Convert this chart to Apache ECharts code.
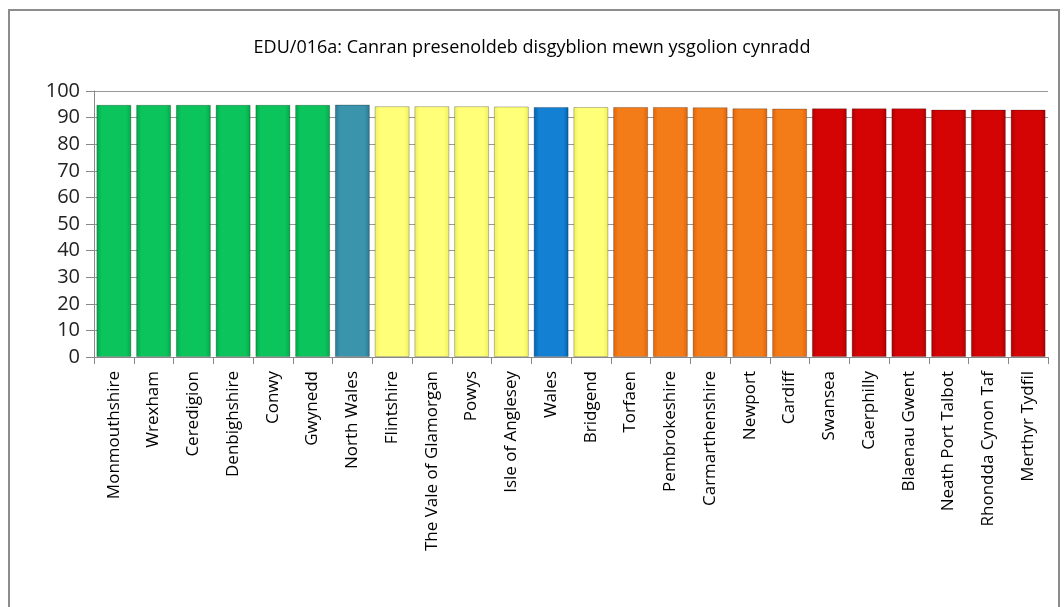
<!DOCTYPE html>
<html>
<head>
<meta charset="utf-8">
<script src="https://cdn.jsdelivr.net/npm/echarts@6/dist/echarts.min.js"></script>
<style>
  html, body { margin: 0; padding: 0; background: #fff; }
  #chart { width: 1064px; height: 607px; }
</style>
</head>
<body>
<div id="chart"></div>
<script>
var myChart = echarts.init(document.getElementById('chart'));

// areas, in the order shown
var areas = ['Monmouthshire', 'Wrexham', 'Ceredigion', 'Denbighshire', 'Conwy', 'Gwynedd',
  'North Wales', 'Flintshire', 'The Vale of Glamorgan', 'Powys', 'Isle of Anglesey', 'Wales',
  'Bridgend', 'Torfaen', 'Pembrokeshire', 'Carmarthenshire', 'Newport', 'Cardiff',
  'Swansea', 'Caerphilly', 'Blaenau Gwent', 'Neath Port Talbot', 'Rhondda Cynon Taf', 'Merthyr Tydfil'];

// attendance %
var attendance = [94.8, 94.8, 94.8, 94.8, 94.8, 94.8,
  94.9, 94.3, 94.3, 94.3, 94.2, 94.0,
  94.0, 94.0, 94.0, 93.9, 93.5, 93.4,
  93.5, 93.5, 93.5, 93.0, 93.0, 93.0];

// colour band of each bar
var band = ['green', 'green', 'green', 'green', 'green', 'green',
  'teal', 'yellow', 'yellow', 'yellow', 'yellow', 'blue',
  'yellow', 'orange', 'orange', 'orange', 'orange', 'orange',
  'red', 'red', 'red', 'red', 'red', 'red'];

var colours = {
  green:  ['#00a848', '#0cc45c', '#00a848'],
  teal:   ['#2a7890', '#3a94ac', '#2a7890'],
  yellow: ['#eeee5a', '#ffff78', '#eeee5a'],
  blue:   ['#0062b0', '#1480d4', '#0062b0'],
  orange: ['#e06408', '#f47c18', '#e06408'],
  red:    ['#b00000', '#d40404', '#b00000']
};

function barStyle(name) {
  var c = colours[name];
  return {
    color: new echarts.graphic.LinearGradient(0, 0, 1, 0, [
      { offset: 0, color: c[0] },
      { offset: 0.15, color: c[1] },
      { offset: 0.85, color: c[1] },
      { offset: 1, color: c[2] }
    ]),
    borderColor: 'rgba(0,0,0,0.25)',
    borderWidth: 1
  };
}

var option = {
  backgroundColor: '#fff',
  animation: false,
  graphic: [{
    type: 'rect',
    shape: { x: 9, y: 10, width: 1050, height: 640 },
    style: { fill: 'none', stroke: '#8c8c8c', lineWidth: 2 },
    z: -1
  }],
  title: {
    text: 'EDU/016a: Canran presenoldeb disgyblion mewn ysgolion cynradd',
    left: 'center',
    top: 34,
    textStyle: { fontFamily: 'Open Sans', fontSize: 18, fontWeight: 'normal', color: '#000' }
  },
  grid: { left: 94, right: 16, top: 91, bottom: 250 },
  xAxis: {
    type: 'category',
    data: areas,
    axisLine: { lineStyle: { color: '#888' } },
    axisTick: { show: true, length: 7, lineStyle: { color: '#888' } },
    axisLabel: {
      rotate: 90, interval: 0, margin: 14,
      fontFamily: 'Open Sans', fontSize: 17, color: '#000'
    }
  },
  yAxis: {
    type: 'value',
    min: 0, max: 100, interval: 10,
    axisLine: { show: true, lineStyle: { color: '#888' } },
    axisTick: { show: true, length: 8, lineStyle: { color: '#888' } },
    splitLine: { lineStyle: { color: '#999' } },
    axisLabel: { fontFamily: 'Open Sans', fontSize: 20, color: '#222', margin: 14 }
  },
  series: [{
    type: 'bar',
    barCategoryGap: '12%',
    data: attendance.map(function (v, i) {
      return { value: v, itemStyle: barStyle(band[i]) };
    })
  }]
};

myChart.setOption(option);
</script>
</body>
</html>
